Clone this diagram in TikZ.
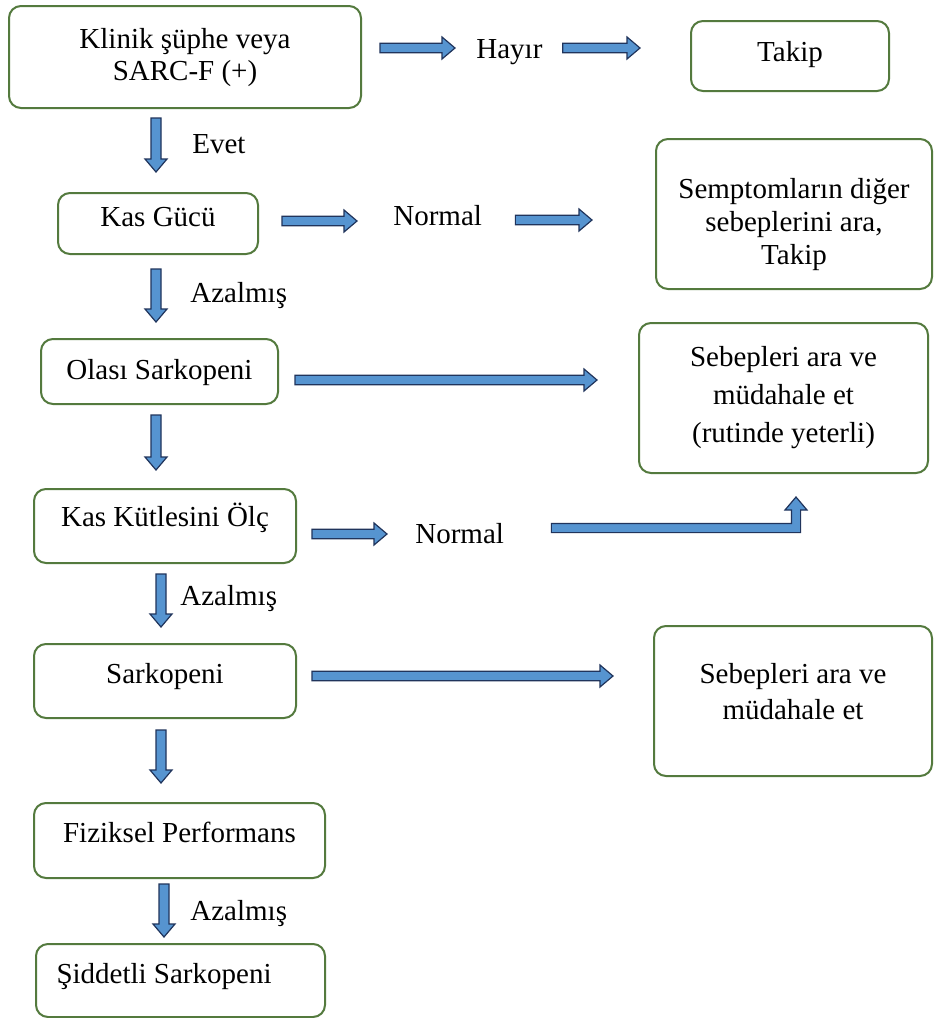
\documentclass[tikz,border=0pt]{standalone}
\usepackage{fontspec}
\setmainfont{Liberation Serif}
\usetikzlibrary{calc}
\definecolor{boxgreen}{RGB}{84,122,62}
\definecolor{arrowblue}{RGB}{86,148,208}
\definecolor{arrownavy}{RGB}{32,52,92}
\newcommand\fsz[1]{\fontsize{14.5pt}{#1}\selectfont}
% horizontal block arrow (rightwards)
\newcommand\barR[2]{\draw[barrow] let \p1=#1, \p2=#2 in
  (\x1,\y1+2.4pt) -- (\x2-6.5pt,\y1+2.4pt) -- (\x2-6.5pt,\y1+5.5pt) -- (\x2,\y1)
  -- (\x2-6.5pt,\y1-5.5pt) -- (\x2-6.5pt,\y1-2.4pt) -- (\x1,\y1-2.4pt) -- cycle;}
% vertical block arrow (downwards)
\newcommand\barD[2]{\draw[barrow] let \p1=#1, \p2=#2 in
  (\x1-2.5pt,\y1) -- (\x1-2.5pt,\y2+6.5pt) -- (\x1-5.5pt,\y2+6.5pt) -- (\x1,\y2)
  -- (\x1+5.5pt,\y2+6.5pt) -- (\x1+2.5pt,\y2+6.5pt) -- (\x1+2.5pt,\y1) -- cycle;}
% bent block arrow (right, then up)
\newcommand\barRU[2]{\draw[barrow] let \p1=#1, \p2=#2 in
  (\x1,\y1+2.3pt) -- (\x2-2.3pt,\y1+2.3pt) -- (\x2-2.3pt,\y2-6.5pt) -- (\x2-5.5pt,\y2-6.5pt)
  -- (\x2,\y2) -- (\x2+5.5pt,\y2-6.5pt) -- (\x2+2.3pt,\y2-6.5pt) -- (\x2+2.3pt,\y1-2.3pt)
  -- (\x1,\y1-2.3pt) -- cycle;}
\tikzset{
  box/.style={draw=boxgreen, line width=1pt, rounded corners=6pt, fill=white,
    inner sep=0pt, anchor=north west, font=\fsz{16pt}},
  lab/.style={anchor=base west, inner sep=0pt, font=\fsz{16pt}},
  barrow/.style={fill=arrowblue, draw=arrownavy, line width=0.6pt, line join=miter},
}
\begin{document}
\begin{tikzpicture}[x=0.5pt, y=-0.5pt]
\useasboundingbox[fill=white] (0,0) rectangle (933,1018);

% boxes
\node[box, minimum width=176pt, text height=21pt, text depth=30pt] (k1) at (8,5)
  {\begin{tabular}[t]{@{}c@{}}Klinik şüphe veya\\SARC-F (+)\end{tabular}};
\node[box, minimum width=99pt, text height=20pt, text depth=15pt] (takip) at (690,20) {Takip};
\node[box, minimum width=100pt, text height=16.5pt, text depth=14pt] (kg) at (57,192) {Kas Gücü};
\node[box, minimum width=138pt, text height=29.5pt, text depth=45.5pt, font=\fsz{16.5pt}] (semp) at (655,138)
  {\begin{tabular}[t]{@{}c@{}}Semptomların diğer\\sebeplerini ara,\\Takip\end{tabular}};
\node[box, minimum width=118.5pt, text height=20pt, text depth=12.5pt] (olasi) at (40,338) {Olası Sarkopeni};
\node[box, minimum width=144.5pt, text height=21.5pt, text depth=53.5pt, font=\fsz{19pt}] (seb1) at (638,322)
  {\begin{tabular}[t]{@{}c@{}}Sebepleri ara ve\\müdahale et\\(rutinde yeterli)\end{tabular}};
\node[box, minimum width=131pt, text height=18.5pt, text depth=18.5pt] (kk) at (33,488) {Kas Kütlesini Ölç};
\node[box, minimum width=131pt, text height=19.5pt, text depth=17.5pt] (sark) at (33,643) {Sarkopeni};
\node[box, minimum width=139pt, text height=28.5pt, text depth=46.5pt, font=\fsz{18pt}] (seb2) at (653,625)
  {\begin{tabular}[t]{@{}c@{}}Sebepleri ara ve\\müdahale et\end{tabular}};
\node[box, minimum width=145.5pt, text height=19.5pt, text depth=18pt] (fiz) at (33,802) {Fiziksel Performans};
\node[box, minimum width=144.5pt, text height=19.5pt, text depth=17pt] (sid) at (35,943)
  {\makebox[124pt][l]{Şiddetli Sarkopeni}};

% labels
\node[lab] (hayir) at (476,58) {Hayır};
\node[lab] (evet) at (192,153) {Evet};
\node[lab] (n1) at (393,225) {Normal};
\node[lab] (az1) at (190,302) {Azalmış};
\node[lab] (n2) at (415,543) {Normal};
\node[lab] (az2) at (180,605) {Azalmış};
\node[lab] (az3) at (190,920) {Azalmış};

% connectors
\barR{($(k1.north east)+(18,43)$)}{($(hayir.base west)+(-21,-10)$)}
\barR{($(hayir.base east)+(20,-10)$)}{($(takip.west)+(-50,-7)$)}
\barD{($(k1.south)+(-29,9)$)}{($(kg.north)+(-2,-20)$)}
\barR{($(kg.east)+(23,-2.5)$)}{($(n1.base west)+(-36,-5)$)}
\barR{($(n1.base east)+(33,-5)$)}{($(semp.west)+(-63,7)$)}
\barD{($(kg.south)+(-2,14)$)}{($(olasi.north)+(-3.5,-16)$)}
\barR{($(olasi.east)+(16,8.5)$)}{($(seb1.west)+(-41,-18)$)}
\barD{($(olasi.south)+(-3.5,10)$)}{($(kk.north)+(-9,-18)$)}
\barR{($(kk.east)+(15,8)$)}{($(n2.base west)+(-28,-10)$)}
\barRU{($(n2.base east)+(47,-15)$)}{($(seb1.south)+(12.5,23)$)}
\barD{($(kk.south)+(-4,10)$)}{($(sark.north)+(-4,-16)$)}
\barR{($(sark.east)+(15,-5)$)}{($(seb2.west)+(-40,-25)$)}
\barD{($(sark.south)+(-4,11)$)}{($(fiz.north)+(-18.5,-19)$)}
\barD{($(fiz.south)+(-15.5,5)$)}{($(sid.north)+(-16.5,-6)$)}
\end{tikzpicture}
\end{document}
